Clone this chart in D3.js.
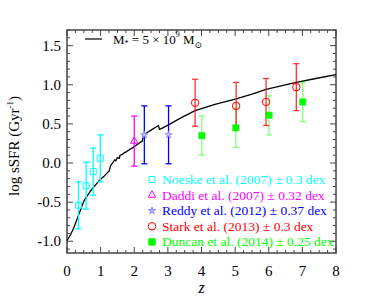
<!DOCTYPE html>
<html lang="en">
<head>
  <meta charset="UTF-8">
  <title>log sSFR vs z</title>
  <script src="https://d3js.org/d3.v7.min.js"></script>
  <style>
    body { margin: 0; background: white; }
    text { font-family: "Liberation Serif", "DejaVu Serif", serif; }
  </style>
</head>
<body>
  <svg width="374" height="299"></svg>
  <script>
    // model track, M* = 5e9 Msun
    const trackZ   = [0, 0.1, 0.2, 0.34, 0.5, 0.6, 0.73, 0.85, 0.99, 1.1, 1.23, 1.26, 1.29, 1.35, 1.42, 1.45, 1.5, 1.55, 1.58, 1.65, 1.7, 1.75, 1.85, 1.97, 2.1, 2.2, 2.24, 2.27, 2.35, 2.5, 2.65, 2.72, 2.75, 2.85, 3.07, 3.4, 3.81, 4.4, 5.03, 5.5, 5.92, 6.4, 6.82, 7.4, 8.0];
    const trackVal = [-0.99, -0.92, -0.83, -0.67, -0.49, -0.42, -0.34, -0.28, -0.21, -0.17, -0.11, -0.10, -0.04, 0.0, 0.04, 0.03, 0.07, 0.06, 0.10, 0.11, 0.13, 0.14, 0.17, 0.20, 0.24, 0.27, 0.28, 0.36, 0.38, 0.42, 0.46, 0.48, 0.43, 0.45, 0.50, 0.58, 0.67, 0.75, 0.82, 0.88, 0.94, 0.99, 1.03, 1.08, 1.13];

    const noeskeZ = [0.34, 0.57, 0.78, 0.99];
    const noeskeV = [-0.54, -0.29, -0.11, 0.06];
    const daddiZ = [2.0];
    const daddiV = [0.28];
    const reddyZ = [2.3, 3.02];
    const reddyV = [0.36, 0.36];
    const starkZ = [3.81, 5.03, 5.92, 6.82];
    const starkV = [0.77, 0.73, 0.78, 0.97];
    const duncanZ = [4.01, 5.02, 6.01, 7.01];
    const duncanV = [0.35, 0.45, 0.61, 0.78];

    const legendLabels = [
      "Noeske et al. (2007) ± 0.3 dex",
      "Daddi et al. (2007) ± 0.32 dex",
      "Reddy et al. (2012) ± 0.37 dex",
      "Stark et al. (2013) ± 0.3 dex",
      "Duncan et al. (2014) ± 0.25 dex"
    ];

    const xTicks = [0, 1, 2, 3, 4, 5, 6, 7, 8];
    const yTicks = [-1.0, -0.5, 0.0, 0.5, 1.0, 1.5];

    const svg = d3.select("svg");
    const pl = 67, pr = 336, pt = 30, pb = 253;

    const x = d3.scaleLinear().domain([0, 8]).range([pl, pr]);
    const y = d3.scaleLinear().domain([-1.15, 1.7]).range([pb, pt]);

    // ticks, inward on all sides
    const axisColor = "#444";
    const g = svg.append("g");
    const minorX = d3.range(0, 8.001, 0.25);
    const minorY = d3.range(-1.1, 1.701, 0.1).map(v => Math.round(v * 10) / 10);

    minorX.forEach(v => {
      const major = Math.abs(v - Math.round(v)) < 1e-6;
      const len = major ? 6 : 3;
      g.append("line").attr("x1", x(v)).attr("x2", x(v)).attr("y1", pb).attr("y2", pb - len)
        .attr("stroke", axisColor).attr("stroke-width", 1);
      g.append("line").attr("x1", x(v)).attr("x2", x(v)).attr("y1", pt).attr("y2", pt + len)
        .attr("stroke", axisColor).attr("stroke-width", 1);
    });
    minorY.forEach(v => {
      const major = Math.abs(v * 2 - Math.round(v * 2)) < 1e-6;
      const len = major ? 6 : 3;
      g.append("line").attr("x1", pl).attr("x2", pl + len).attr("y1", y(v)).attr("y2", y(v))
        .attr("stroke", axisColor).attr("stroke-width", 1);
      g.append("line").attr("x1", pr).attr("x2", pr - len).attr("y1", y(v)).attr("y2", y(v))
        .attr("stroke", axisColor).attr("stroke-width", 1);
    });

    svg.append("rect")
      .attr("x", pl).attr("y", pt)
      .attr("width", pr - pl).attr("height", pb - pt)
      .attr("fill", "none").attr("stroke", axisColor).attr("stroke-width", 1.5);

    // tick labels
    svg.selectAll(".xl").data(xTicks).enter().append("text")
      .attr("x", d => x(d)).attr("y", 276)
      .attr("text-anchor", "middle").attr("font-size", 15)
      .text(d => d);
    svg.selectAll(".yl").data(yTicks).enter().append("text")
      .attr("x", 61).attr("y", d => y(d) + 5)
      .attr("text-anchor", "end").attr("font-size", 15)
      .text(d => d.toFixed(1));

    svg.append("text")
      .attr("x", x(4)).attr("y", 293)
      .attr("text-anchor", "middle").attr("font-size", 16).attr("font-style", "italic")
      .text("z");

    const yl = svg.append("text")
      .attr("transform", "translate(19,146) rotate(-90)")
      .attr("text-anchor", "middle").attr("font-size", 15);
    yl.append("tspan").text("log sSFR (Gyr");
    yl.append("tspan").attr("dy", -6).attr("font-size", 9).text("-1");
    yl.append("tspan").attr("dy", 6).text(")");

    // model track
    const line = d3.line().x((d, i) => x(trackZ[i])).y(d => y(d));
    svg.append("path")
      .datum(trackVal)
      .attr("d", line)
      .attr("fill", "none").attr("stroke", "black").attr("stroke-width", 1.3);

    // error bars + markers
    function errorBars(zs, vs, err, color, opacity) {
      const eg = svg.append("g").attr("stroke", color).attr("stroke-width", 1.3).attr("opacity", opacity);
      zs.forEach((z, i) => {
        const cx = x(z), y1 = y(vs[i] + err), y2 = y(vs[i] - err);
        eg.append("line").attr("x1", cx).attr("x2", cx).attr("y1", y1).attr("y2", y2);
        eg.append("line").attr("x1", cx - 3).attr("x2", cx + 3).attr("y1", y1).attr("y2", y1);
        eg.append("line").attr("x1", cx - 3).attr("x2", cx + 3).attr("y1", y2).attr("y2", y2);
      });
    }

    function markers(zs, vs, type, size, stroke, fill, sw) {
      const sym = d3.symbol().type(type).size(size);
      svg.append("g").selectAll("path").data(vs).enter().append("path")
        .attr("transform", (d, i) => `translate(${x(zs[i])},${y(d)})`)
        .attr("d", sym)
        .attr("fill", fill).attr("stroke", stroke).attr("stroke-width", sw);
    }

    errorBars(noeskeZ, noeskeV, 0.3, "#00ffff", 1);
    errorBars(daddiZ, daddiV, 0.32, "#ff00ff", 1);
    errorBars(reddyZ, reddyV, 0.37, "#0000ff", 1);
    errorBars(duncanZ, duncanV, 0.25, "#00ff00", 0.5);
    errorBars(starkZ, starkV, 0.3, "#ff0000", 0.8);

    markers(noeskeZ, noeskeV, d3.symbolSquare, 36, "#00ffff", "none", 1);
    markers(daddiZ, daddiV, d3.symbolTriangle, 24, "#ff00ff", "none", 1);
    markers(reddyZ, reddyV, d3.symbolStar, 16, "#8888ff", "#bbbbff", 0.8);
    markers(starkZ, starkV, d3.symbolCircle, 44, "#ff0000", "none", 1);
    markers(duncanZ, duncanV, d3.symbolSquare, 40, "#00ee00", "#00ff00", 0.5);

    // top legend
    svg.append("line").attr("x1", 85).attr("x2", 102).attr("y1", 39).attr("y2", 39)
      .attr("stroke", "black").attr("stroke-width", 1.2);
    const t = svg.append("text").attr("x", 113).attr("y", 44).attr("font-size", 13);
    t.append("tspan").text("M");
    t.append("tspan").attr("dy", 2).attr("font-size", 8).text("*");
    t.append("tspan").attr("dy", -2).text(" = 5 × 10");
    t.append("tspan").attr("dy", -7).attr("font-size", 8).text("9");
    t.append("tspan").attr("dy", 7).text(" M");
    t.append("tspan").attr("dy", 4).attr("font-size", 9).text("⊙");

    // bottom legend
    const lcolors = ["#00ffff", "#ff00ff", "#0000ff", "#ff0000", "#00ff00"];
    const ltypes = [d3.symbolSquare, d3.symbolTriangle, d3.symbolStar, d3.symbolCircle, d3.symbolSquare];
    const lsizes = [36, 24, 16, 44, 40];
    const lfills = ["none", "none", "#bbbbff", "none", "#00ff00"];
    const lstrokes = ["#00ffff", "#ff00ff", "#8888ff", "#ff0000", "#00ee00"];
    legendLabels.forEach((lab, i) => {
      const ly = 179.5 + i * 15.6;
      svg.append("path")
        .attr("transform", `translate(152,${ly})`)
        .attr("d", d3.symbol().type(ltypes[i]).size(lsizes[i]))
        .attr("fill", lfills[i]).attr("stroke", lstrokes[i]).attr("stroke-width", 1);
      svg.append("text")
        .attr("x", 162).attr("y", ly + 4.5)
        .attr("font-size", 13.5).attr("fill", lcolors[i])
        .text(lab);
    });
  </script>
</body>
</html>
